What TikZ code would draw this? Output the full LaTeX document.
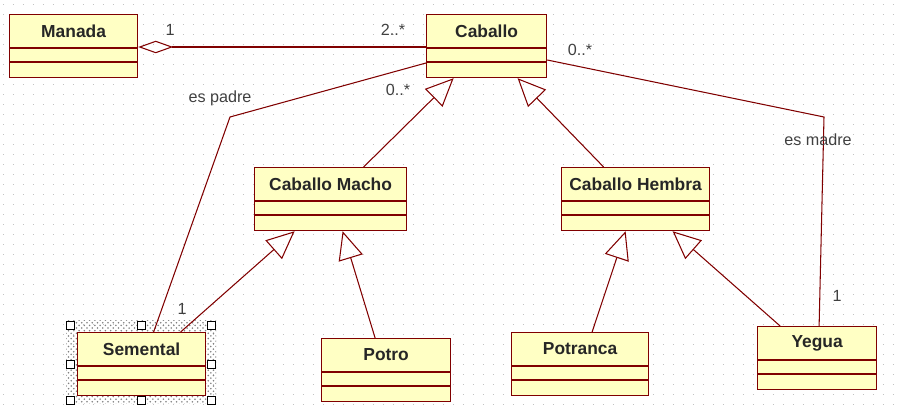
\documentclass[tikz,border=0pt]{standalone}
\usepackage{fontspec}
\setmainfont{Liberation Sans}
\usetikzlibrary{positioning,calc,arrows.meta,patterns}
\definecolor{borde}{RGB}{128,0,0}
\definecolor{relleno}{RGB}{255,255,196}
\definecolor{rejilla}{RGB}{195,195,195}

\begin{document}
\begin{tikzpicture}[x=0.02cm, y=-0.02cm,
    clase/.style={draw=borde, fill=relleno, line width=0.7pt, anchor=north west, inner sep=0, minimum height=63*0.02cm},
    titulo/.style={font=\fontsize{9.9}{12}\selectfont\bfseries, text=black!85},
    etiqueta/.style={font=\fontsize{9.2}{11}\selectfont, text=black!75},
    linea/.style={draw=borde, line width=0.6pt},
    herencia/.style={linea, -{Triangle[open, length=0.56cm, width=0.5cm]}},
    agregacion/.style={linea, {Diamond[open, length=0.7cm, width=0.25cm]}-}]
    \useasboundingbox (0, 0) rectangle (897, 415);

    % Rejilla de fondo
    \foreach \gy in {5, 15, ..., 405} \draw [rejilla, line width=0.02cm, dash pattern=on 0.02cm off 0.18cm] (3, \gy) -- (897, \gy);

    % Seleccion de Semental
    \fill [pattern=crosshatch dots, pattern color=gray] (66, 321) rectangle (216, 404);

    % Clases
    \foreach \n/\t/\x/\y/\w in {manada/Manada/9/14/128, caballo/Caballo/426/14/120,
        macho/Caballo Macho/254/167/152, hembra/Caballo Hembra/561/167/148,
        semental/Semental/77/332/128, potro/Potro/321/338/129,
        potranca/Potranca/511/332/137, yegua/Yegua/757/326/119} {
        \node [clase, minimum width=\w*0.02cm] (\n) at (\x, \y) {};
        \node [titulo] (\n-t) at ($(\n.north)+(0, 17)$) {\t};
        \draw [linea] ($(\n.north west)+(0, 34)$) -- ($(\n.north east)+(0, 34)$);
        \draw [linea] ($(\n.north west)+(0, 48)$) -- ($(\n.north east)+(0, 48)$);
    }

    % Marcas de seleccion
    \foreach \hx/\hy in {70/325, 141/325, 211/325, 70/364, 211/364, 70/400, 141/400, 211/400}
        \draw [fill=white, line width=0.5pt] (\hx-4, \hy-4) rectangle (\hx+4, \hy+4);

    % Agregacion
    \draw [agregacion] ($(manada.north east)+(0, 33)$) -- ($(caballo.north west)+(0, 33)$);
    \node [etiqueta] (m1) at (170, 30) {1};
    \node [etiqueta] (m2) at (393, 30) {2..*};

    % Asociaciones
    \coordinate (codo1) at (230, 117);
    \coordinate (codo2) at (824, 117);
    \draw [linea] ($(caballo.north west)+(0, 49)$) -- (codo1) -- ($(semental.north)+(12, 0)$);
    \draw [linea] ($(caballo.north east)+(0, 46)$) -- (codo2) -- ($(yegua.north)+(2, 0)$);
    \node [etiqueta] (padre) at (220, 98) {es padre};
    \node [etiqueta] (m3) at (398, 90) {0..*};
    \node [etiqueta] (m4) at (182, 309) {1};
    \node [etiqueta] (madre) at (818, 140) {es madre};
    \node [etiqueta] (m5) at (580, 50) {0..*};
    \node [etiqueta] (m6) at (837, 296) {1};

    % Herencias
    \draw [herencia] ($(macho.north)+(33, 0)$) -- ($(caballo.south)+(-33, 0)$);
    \draw [herencia] ($(hembra.north)+(-32, 0)$) -- ($(caballo.south)+(31, 0)$);
    \draw [herencia] ($(semental.north)+(39, 0)$) -- ($(macho.south)+(-36, 0)$);
    \draw [herencia] ($(potro.north)+(-11, 0)$) -- ($(macho.south)+(12, 0)$);
    \draw [herencia] ($(potranca.north)+(12, 0)$) -- ($(hembra.south)+(-10, 0)$);
    \draw [herencia] ($(yegua.north)+(-37, 0)$) -- ($(hembra.south)+(37, 0)$);
\end{tikzpicture}
\end{document}
